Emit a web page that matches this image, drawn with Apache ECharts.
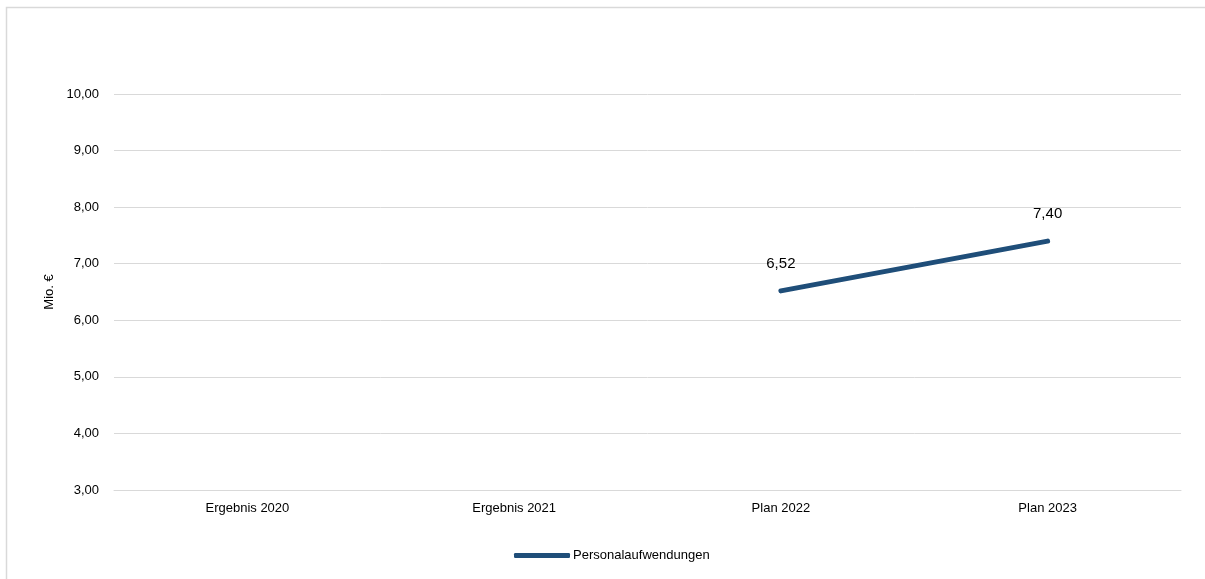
<!DOCTYPE html>
<html>
<head>
<meta charset="utf-8">
<script src="https://cdn.jsdelivr.net/npm/echarts@6/dist/echarts.min.js"></script>
<style>
  html, body { margin: 0; padding: 0; background: #fff; }
  #chart { width: 1205px; height: 579px; }
</style>
</head>
<body>
<div id="chart"></div>
<script>
// Personalaufwendungen in Mio. €
const categories = ['Ergebnis 2020', 'Ergebnis 2021', 'Plan 2022', 'Plan 2023'];
const personalaufwendungen = [null, null, 6.52, 7.40];
const seriesName = 'Personalaufwendungen';
const axisName = 'Mio. €';

const fmt = v => v.toFixed(2).replace('.', ',');
const font = 'Liberation Sans, Arial, sans-serif';

const chart = echarts.init(document.getElementById('chart'), null, { renderer: 'canvas' });
chart.setOption({
  animation: false,
  textStyle: { fontFamily: font },
  graphic: [{
    type: 'rect',
    shape: { x: 6.5, y: 7.5, width: 1300, height: 700 },
    style: { fill: 'none', stroke: '#d9d9d9', lineWidth: 1.5 },
    silent: true
  }],
  grid: { left: 114, right: 24, top: 94, bottom: 89, containLabel: false },
  legend: {
    bottom: 12,
    left: 509,
    itemWidth: 56,
    itemHeight: 5,
    itemGap: 4,
    icon: 'roundRect',
    textStyle: { fontFamily: font, fontSize: 13, color: '#000', padding: [0, 0, 0, -2] },
    data: [seriesName]
  },
  xAxis: {
    type: 'category',
    data: categories,
    boundaryGap: true,
    axisLine: { show: true, lineStyle: { color: '#d9d9d9', width: 1 } },
    axisTick: { show: false },
    axisLabel: { color: '#000', fontSize: 13, fontFamily: font, margin: 12 }
  },
  yAxis: {
    type: 'value',
    min: 3,
    max: 10,
    interval: 1,
    name: axisName,
    nameLocation: 'middle',
    nameGap: 58,
    nameMoveOverlap: false,
    nameTextStyle: { color: '#000', fontSize: 13, fontFamily: font },
    axisLine: { show: false },
    axisTick: { show: false },
    splitLine: { lineStyle: { color: '#d9d9d9', width: 1 } },
    axisLabel: { color: '#000', fontSize: 13, fontFamily: font, margin: 15, formatter: v => fmt(v) }
  },
  series: [{
    name: seriesName,
    type: 'line',
    data: personalaufwendungen,
    showSymbol: true,
    symbol: 'circle',
    symbolSize: 0,
    connectNulls: false,
    lineStyle: { color: '#1f4e79', width: 5, cap: 'round' },
    itemStyle: { color: '#1f4e79' },
    label: {
      show: true,
      position: 'top',
      distance: 20,
      color: '#000',
      fontSize: 15,
      fontFamily: font,
      formatter: p => p.value == null ? '' : fmt(p.value)
    }
  }]
});
</script>
</body>
</html>
